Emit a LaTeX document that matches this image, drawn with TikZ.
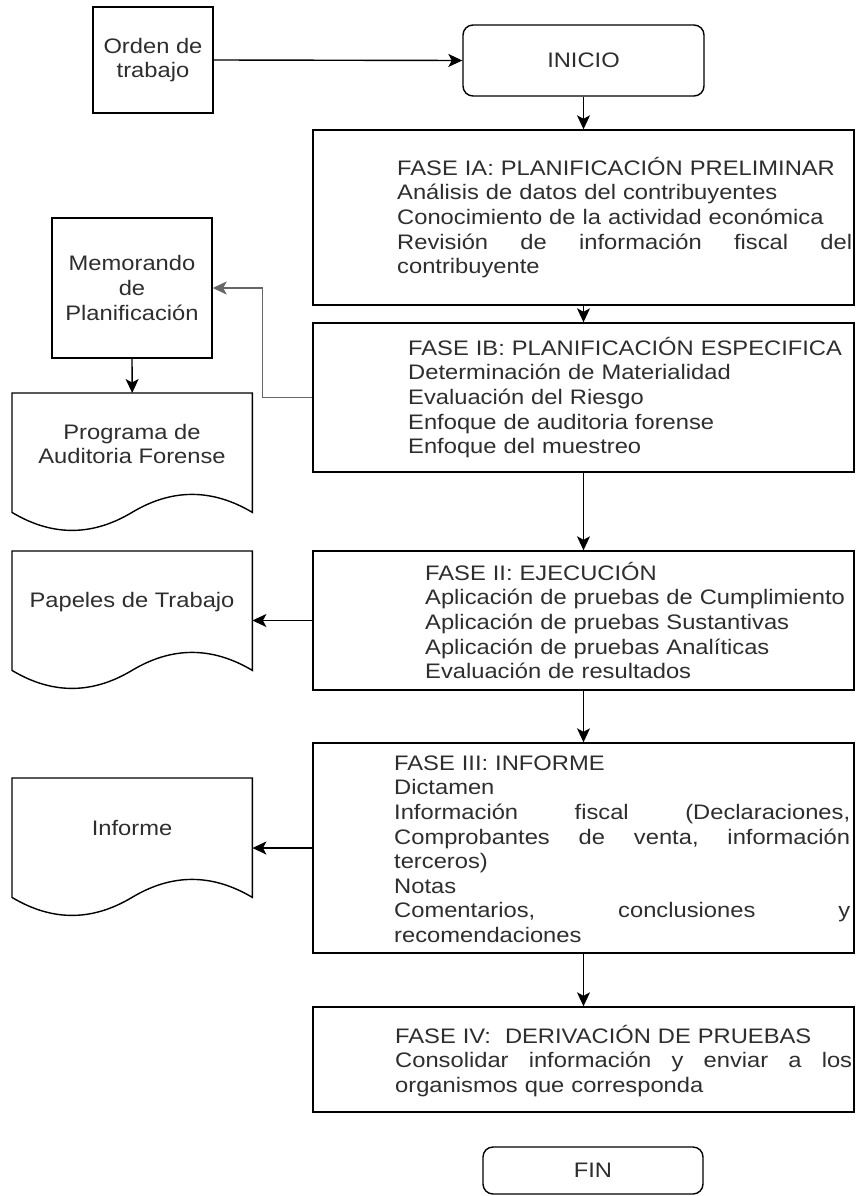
\documentclass[tikz,border=0pt]{standalone}
\usepackage{fontspec}
\setmainfont{Liberation Sans}[FakeStretch=1.13]
\usetikzlibrary{arrows.meta}
\newcommand\tstrut{\rule{0pt}{20pt}}
\newcommand\jline[2]{\leavevmode\hbox to #1{#2}}
\newcommand\docshape[1]{%
  \draw[docline] (#1.north west) -- (#1.north east) -- (#1.south east)
    .. controls ([shift={(200,-24)}]#1.south west) and ([shift={(160,-24)}]#1.south west) .. ([shift={(120,0)}]#1.south west)
    .. controls ([shift={(80,24)}]#1.south west) and ([shift={(40,24)}]#1.south west) .. (#1.south west) -- cycle;}
\begin{document}
\begin{tikzpicture}[x=1pt,y=-1pt,
  txt/.style={font=\fontsize{21}{24.6}\selectfont, text=black!82},
  shapebox/.style={draw=black, line width=1.4pt, inner sep=0pt, txt, align=center},
  phase/.style={shapebox, minimum width=541pt},
  phasetext/.style={txt, inner sep=0pt, anchor=north west, align=left},
  docarea/.style={inner sep=0pt, anchor=north west, minimum width=240pt, minimum height=119pt},
  docline/.style={draw=black, line width=1.4pt},
  arr/.style={line width=1.4pt, draw=black, -{Stealth[length=14pt,width=13pt,inset=3.5pt]}},
]
\useasboundingbox (0,0) rectangle (856,1196);
\fill[white] (0,0) rectangle (856,1196);

% left-top and start
\node[shapebox, minimum width=120pt, minimum height=106pt] (orden) at (153,60) {Orden de\\trabajo};
\node[shapebox, rounded corners=10pt, minimum width=241pt, minimum height=71pt] (inicio) at (583.5,60.5) {INICIO};

% phases
\node[phase, minimum height=175pt] (ia) at (583.5,217.5) {};
\node[phase, minimum height=149pt] (ib) at (583.5,397.5) {};
\node[phase, minimum height=139pt] (f2) at (583.5,620.5) {};
\node[phase, minimum height=210pt] (f3) at (583.5,848) {};
\node[phase, minimum height=105pt] (f4) at (583.5,1059.5) {};
\node[shapebox, rounded corners=10pt, minimum width=220pt, minimum height=47pt] (fin) at (593,1170.5) {FIN};

\node[phasetext, text width=455pt] (iat) at (397,155) {\tstrut FASE IA: PLANIFICACIÓN PRELIMINAR\\Análisis de datos del contribuyentes\\Conocimiento de la actividad económica\\\jline{455pt}{Revisión\hfil de\hfil información\hfil fiscal\hfil del}\\contribuyente};
\node[phasetext, text width=440pt] (ibt) at (408,335) {\tstrut FASE IB: PLANIFICACIÓN ESPECIFICA\\Determinación de Materialidad\\Evaluación del Riesgo\\Enfoque de auditoria forense\\Enfoque del muestreo};
\node[phasetext, text width=430pt] (f2t) at (425,560) {\tstrut FASE II: EJECUCIÓN\\Aplicación de pruebas de Cumplimiento\\Aplicación de pruebas Sustantivas\\Aplicación de pruebas Analíticas\\Evaluación de resultados};
\node[phasetext, text width=456pt] (f3t) at (394,750) {\tstrut FASE III: INFORME\\Dictamen\\\jline{456pt}{Información\hfil fiscal\hfil (Declaraciones,}\\\jline{456pt}{Comprobantes\hfil de\hfil venta,\hfil información}\\terceros)\\Notas\\\jline{456pt}{Comentarios,\hfil conclusiones\hfil y}\\recomendaciones};
\node[phasetext, text width=457pt] (f4t) at (395,1023) {\tstrut FASE IV:\ \ DERIVACIÓN DE PRUEBAS\\\jline{457pt}{Consolidar\hfil información\hfil y\hfil enviar\hfil a\hfil los}\\organismos que corresponda};

% left column
\node[shapebox, minimum width=160pt, minimum height=140pt] (memo) at (132,288) {Memorando\\de\\Planificación};
\node[docarea] (prog) at (12,393) {};
\node[docarea] (pap) at (12,551) {};
\node[docarea] (inf) at (12,778) {};
\docshape{prog}
\docshape{pap}
\docshape{inf}
\node[txt, align=center, inner sep=0pt] (progt) at (132,444) {Programa de\\Auditoria Forense};
\node[txt, inner sep=0pt] (papt) at (132,602) {Papeles de Trabajo};
\node[txt, inner sep=0pt] (inft) at (132,828) {Informe};

% connectors
\draw[arr] (orden.east) -- (inicio.west);
\draw[arr] (inicio.south) -- (ia.north);
\draw[arr] (ia.south) -- (ib.north);
\draw[arr] (ib.south) -- (f2.north);
\draw[arr] (f2.south) -- (f3.north);
\draw[arr] (f3.south) -- (f4.north);
\draw[arr, draw=black!60] (ib.west) -- ++(-50,0) |- (memo.east);
\draw[arr] (memo.south) -- (prog.north);
\draw[arr] (f2.west) -- (f2.west -| pap.east);
\draw[arr] (f3.west) -- (f3.west -| inf.east);
\end{tikzpicture}
\end{document}
